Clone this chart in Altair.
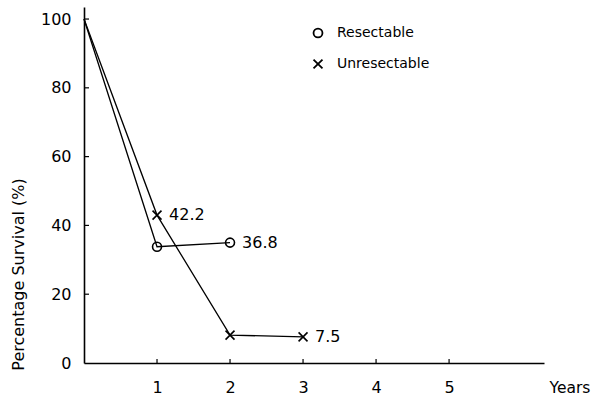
import altair as alt
import pandas as pd

# --- data ---
years_res = [0, 1, 2]
resectable = [100, 33.8, 35.0]
years_unres = [0, 1, 2, 3]
unresectable = [100, 43.0, 8.1, 7.6]

label_years = [1, 2, 3]
label_values = [43.0, 35.0, 7.6]
label_texts = ["42.2", "36.8", "7.5"]

x_ticks = [1, 2, 3, 4, 5]
y_ticks = [0, 20, 40, 60, 80, 100]

series_names = ["Resectable", "Unresectable"]

rows = []
for yr, v in zip(years_res, resectable):
    rows.append({"series": "Resectable", "year": yr, "value": v})
for yr, v in zip(years_unres, unresectable):
    rows.append({"series": "Unresectable", "year": yr, "value": v})
df = pd.DataFrame(rows)
pts = df[df["year"] > 0]

lab = pd.DataFrame({"year": label_years, "value": label_values, "text": label_texts})
xt = pd.DataFrame({"year": x_ticks})
yt = pd.DataFrame({"value": y_ticks[1:]})

FONT = "DejaVu Sans"
xscale = alt.Scale(domain=[0, 6.3], nice=False, zero=False)
yscale = alt.Scale(domain=[0, 103.5], nice=False)

xaxis = alt.Axis(values=x_ticks, tickSize=0, labelFontSize=16, labelFont=FONT,
                 labelColor="black", labelPadding=16, domainColor="black",
                 domainWidth=1.6, grid=False, title="Years", titleFont=FONT,
                 titleFontSize=15.5, titleFontWeight="normal", titleColor="black",
                 titleX=465, titleY=24, titleAlign="left", titleBaseline="middle")
yaxis = alt.Axis(values=y_ticks, tickSize=0, labelFontSize=16, labelFont=FONT,
                 labelColor="black", labelPadding=13, domainColor="black",
                 domainWidth=1.6, grid=False, title="Percentage Survival (%)",
                 titleFont=FONT, titleFontSize=16, titleFontWeight="normal",
                 titleColor="black", titleX=-58, titleY=267)

X = alt.X("year:Q", scale=xscale, axis=xaxis)
Y = alt.Y("value:Q", scale=yscale, axis=yaxis)

lines = alt.Chart(df).mark_line(color="black", strokeWidth=1.3).encode(
    x=X, y=Y, detail="series:N")

xpath = "M-1,-1L1,1M-1,1L1,-1"
points = alt.Chart(pts).mark_point(filled=False, color="black", strokeWidth=1.6,
                                   size=80, opacity=1).encode(
    x=X, y=Y,
    shape=alt.Shape("series:N",
                    scale=alt.Scale(domain=series_names, range=["circle", xpath]),
                    legend=alt.Legend(orient="none", legendX=227, legendY=19,
                                      title=None, labelFont=FONT, labelFontSize=14,
                                      labelColor="black", labelOffset=12,
                                      rowPadding=13, symbolSize=80,
                                      symbolStrokeWidth=1.8,
                                      symbolStrokeColor="black", padding=0)))

labels = alt.Chart(lab).mark_text(align="left", baseline="middle", dx=12,
                                  font=FONT, fontSize=16, color="black").encode(
    x=X, y=Y, text="text:N")

yticks = alt.Chart(yt).mark_rule(color="black", strokeWidth=1.2).encode(
    y=Y, x=alt.value(0), x2=alt.value(5))
xticks = alt.Chart(xt).mark_rule(color="black", strokeWidth=1.2).encode(
    x=X, y=alt.value(356), y2=alt.value(352))

chart = alt.layer(lines, yticks, xticks, points, labels).properties(
    width=460, height=356,
    autosize=alt.AutoSizeParams(type="none"),
    padding={"left": 84, "top": 7, "right": 49, "bottom": 36},
    background="white",
).configure_view(stroke=None)

chart.save("out.html", embed_options={"renderer": "svg", "actions": False})
